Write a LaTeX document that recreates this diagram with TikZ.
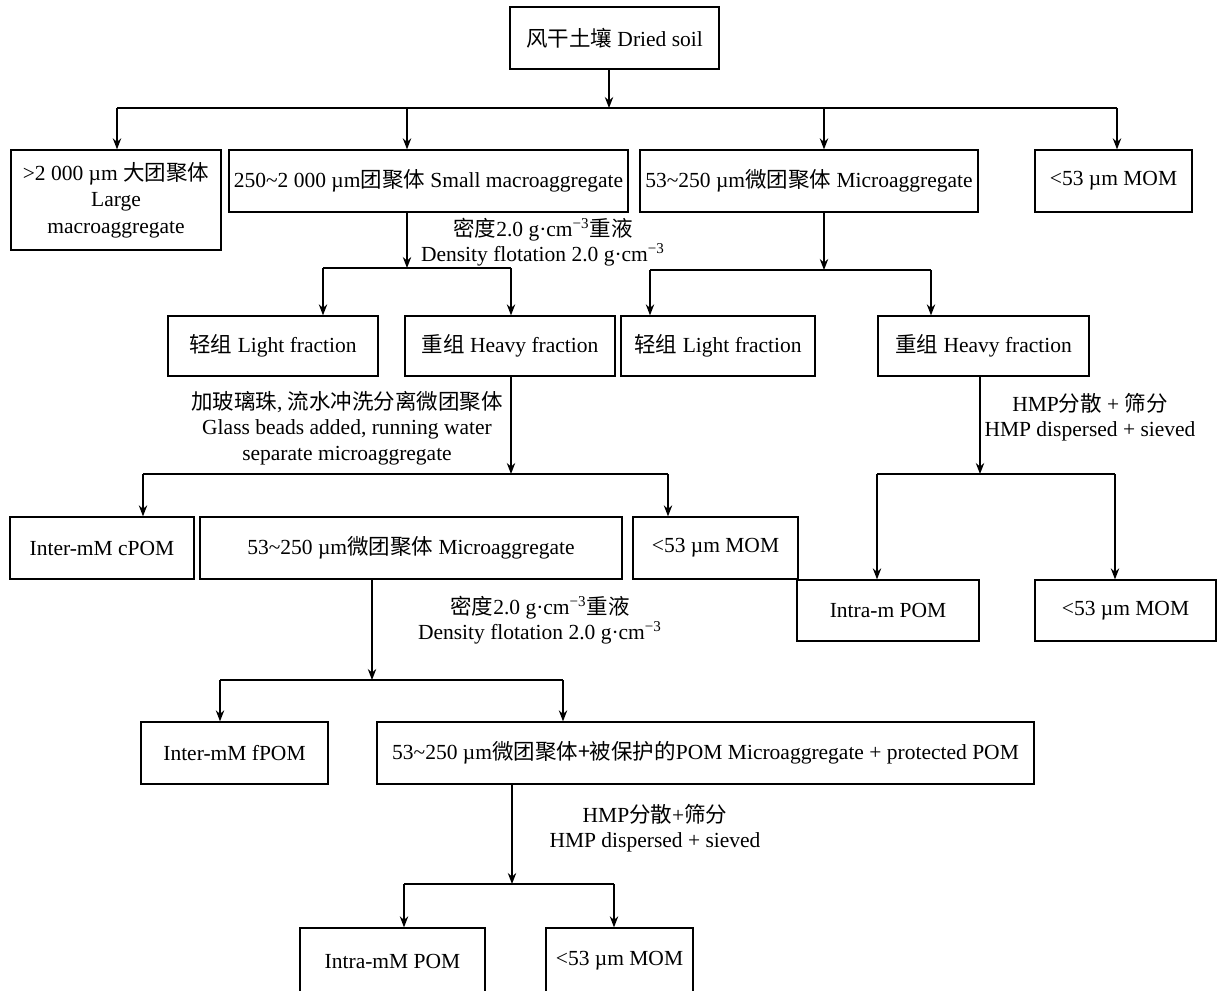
\documentclass[tikz,border=0pt]{standalone}
\usepackage{fontspec}
\setmainfont{Liberation Serif}
\newfontfamily\cjk{Noto Sans CJK SC}
\usetikzlibrary{arrows.meta}
\newcommand{\zh}[1]{{\cjk #1}}
\newcommand{\supm}{\textsuperscript{\char"2212 3}}
\newcommand{\fs}{\fontsize{10.75}{12.7}\selectfont}
\begin{document}
\begin{tikzpicture}[x=0.5pt,y=-0.5pt,
  box/.style={draw,line width=0.65pt,inner sep=0pt,align=center,font=\fs},
  lab/.style={inner sep=0pt,align=center,font=\fs},
  ln/.style={line width=0.65pt},
  arr/.style={ln,-{Stealth[length=5.5pt,width=4.2pt]}}]
\useasboundingbox (0,0) rectangle (1217,991);
\clip (0,0) rectangle (1217,991);

% boxes
\node[box,minimum width=104.5pt,minimum height=31pt] (soil) at (614.5,38) {\zh{风干土壤} Dried soil};
\node[box,minimum width=105pt,minimum height=50pt,font=\fontsize{10.75}{13.3}\selectfont] (large) at (116,200) {>2 000 µm \zh{大团聚体}\\Large\\macroaggregate};
\node[box,minimum width=199.5pt,minimum height=31pt] (small) at (428.5,181) {250\textasciitilde{}2 000 µm\zh{团聚体} Small macroaggregate};
\node[box,minimum width=169pt,minimum height=31pt] (micro) at (809,181) {53\textasciitilde{}250 µm\zh{微团聚体} Microaggregate};
\node[box,minimum width=78.5pt,minimum height=31pt] (mom1) at (1113.5,181) {<53 µm MOM};

\node[box,minimum width=105pt,minimum height=30pt] (lf1) at (273,346) {\zh{轻组} Light fraction};
\node[box,minimum width=105pt,minimum height=30pt] (hf1) at (510,346) {\zh{重组} Heavy fraction};
\node[box,minimum width=97pt,minimum height=30pt] (lf2) at (718,346) {\zh{轻组} Light fraction};
\node[box,minimum width=105.5pt,minimum height=30pt] (hf2) at (983.5,346) {\zh{重组} Heavy fraction};

\node[box,minimum width=92pt,minimum height=31pt] (cpom) at (102,548) {Inter-mM cPOM};
\node[box,minimum width=211pt,minimum height=31pt] (micro2) at (411,548) {53\textasciitilde{}250 µm\zh{微团聚体} Microaggregate};
\node[box,minimum width=82.5pt,minimum height=31pt] (mom2) at (715.5,548) {<53 µm MOM};
\node[box,minimum width=91pt,minimum height=30.5pt] (intram) at (888,610.5) {Intra-m POM};
\node[box,minimum width=90.5pt,minimum height=30.5pt] (mom3) at (1125.5,610.5) {<53 µm MOM};

\node[box,minimum width=93.5pt,minimum height=31pt] (fpom) at (234.5,753) {Inter-mM fPOM};
\node[box,minimum width=328.5pt,minimum height=31pt] (prot) at (705.5,753) {53\textasciitilde{}250 µm\zh{微团聚体+被保护的}POM Microaggregate + protected POM};

\node[box,minimum width=92.5pt,minimum height=33pt] (intramm) at (392.5,961) {Intra-mM POM};
\node[box,minimum width=73.5pt,minimum height=33pt] (mom4) at (619.5,961) {<53 µm MOM};

% labels
\node[lab] (l1) at (543,242) {\zh{密度}2.0 g·cm\supm\zh{重液}\\Density flotation 2.0 g·cm\supm};
\node[lab] (l2) at (347,428) {\zh{加玻璃珠}, \zh{流水冲洗分离微团聚体}\\Glass beads added, running water\\separate microaggregate};
\node[lab] (l3) at (1090,417) {HMP\zh{分散} + \zh{筛分}\\HMP dispersed + sieved};
\node[lab] (l4) at (540,620) {\zh{密度}2.0 g·cm\supm\zh{重液}\\Density flotation 2.0 g·cm\supm};
\node[lab] (l5) at (655,828) {HMP\zh{分散}+\zh{筛分}\\HMP dispersed + sieved};

% level 0
\coordinate (b0) at (609,108);
\coordinate (b0l) at (117,108);
\coordinate (b0a) at (407,108);
\coordinate (b0b) at (824,108);
\coordinate (b0r) at (1117,108);
\draw[arr] (soil.south -| b0) -- (b0);
\draw[ln] (b0l) -- (b0r);
\draw[arr] (b0l) -- (b0l |- large.north);
\draw[arr] (b0a) -- (b0a |- small.north);
\draw[arr] (b0b) -- (b0b |- micro.north);
\draw[arr] (b0r) -- (b0r |- mom1.north);

% small macro split
\coordinate (b1) at (407,268);
\coordinate (b1l) at (323,268);
\coordinate (b1r) at (511,268);
\draw[arr] (small.south -| b1) -- (b1);
\draw[ln] (b1l) -- (b1r);
\draw[arr] (b1l) -- (b1l |- lf1.north);
\draw[arr] (b1r) -- (b1r |- hf1.north);

% micro split
\coordinate (b2) at (824,270);
\coordinate (b2l) at (650,270);
\coordinate (b2r) at (931,270);
\draw[arr] (micro.south -| b2) -- (b2);
\draw[ln] (b2l) -- (b2r);
\draw[arr] (b2l) -- (b2l |- lf2.north);
\draw[arr] (b2r) -- (b2r |- hf2.north);

% heavy fraction 1
\coordinate (b3) at (511,474);
\coordinate (b3l) at (143,474);
\coordinate (b3r) at (668,474);
\draw[arr] (hf1.south -| b3) -- (b3);
\draw[ln] (b3l) -- (b3r);
\draw[arr] (b3l) -- (b3l |- cpom.north);
\draw[arr] (b3r) -- (b3r |- mom2.north);

% heavy fraction 2
\coordinate (b4) at (980,474);
\coordinate (b4l) at (877,474);
\coordinate (b4r) at (1115,474);
\draw[arr] (hf2.south -| b4) -- (b4);
\draw[ln] (b4l) -- (b4r);
\draw[arr] (b4l) -- (b4l |- intram.north);
\draw[arr] (b4r) -- (b4r |- mom3.north);

% micro2 split
\coordinate (b5) at (372,680);
\coordinate (b5l) at (220,680);
\coordinate (b5r) at (563,680);
\draw[arr] (micro2.south -| b5) -- (b5);
\draw[ln] (b5l) -- (b5r);
\draw[arr] (b5l) -- (b5l |- fpom.north);
\draw[arr] (b5r) -- (b5r |- prot.north);

% protected split
\coordinate (b6) at (512,884);
\coordinate (b6l) at (404,884);
\coordinate (b6r) at (614,884);
\draw[arr] (prot.south -| b6) -- (b6);
\draw[ln] (b6l) -- (b6r);
\draw[arr] (b6l) -- (b6l |- intramm.north);
\draw[arr] (b6r) -- (b6r |- mom4.north);
\end{tikzpicture}
\end{document}
